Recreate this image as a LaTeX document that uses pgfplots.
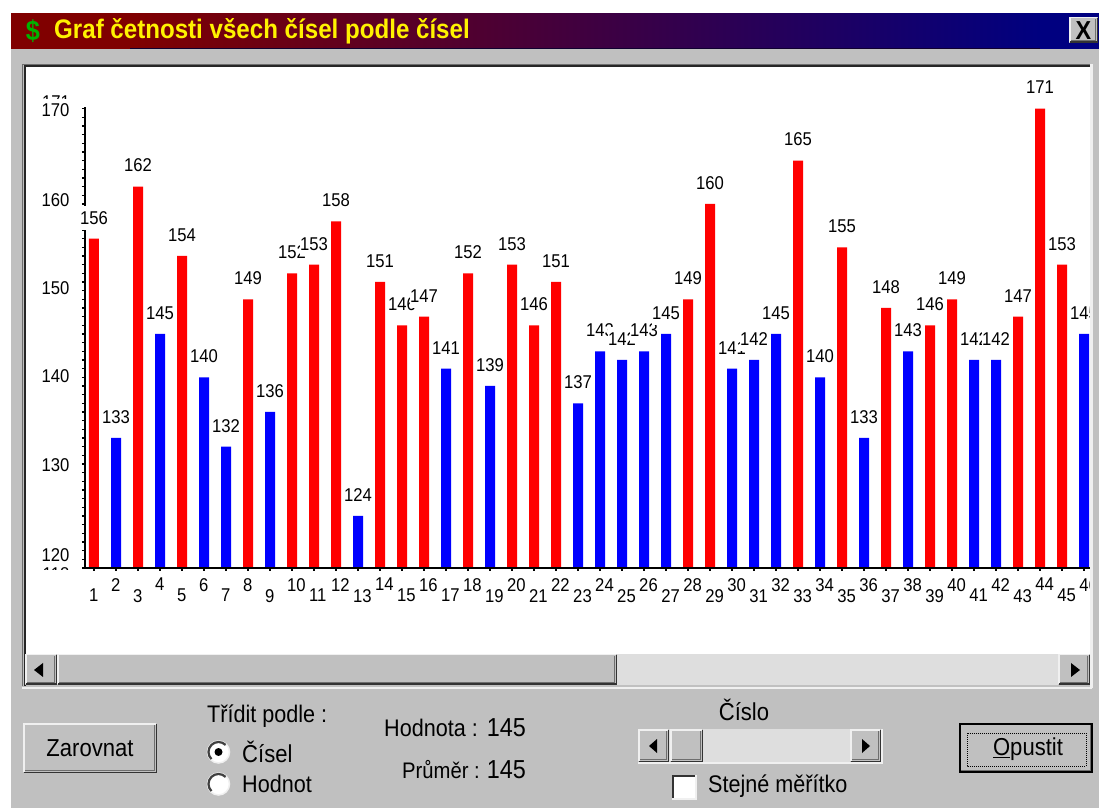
\documentclass[border=0pt]{standalone}
\usepackage{fontspec}
\setmainfont[FakeStretch=0.9]{Liberation Sans}
\usepackage{pgfplots}
\pgfplotsset{compat=1.18}
\definecolor{wingrey}{RGB}{192,192,192}
\definecolor{winlight}{RGB}{240,240,240}
\definecolor{windark}{RGB}{110,110,110}
\definecolor{wintrack}{RGB}{222,222,222}
\definecolor{barred}{RGB}{255,0,0}
\definecolor{barblue}{RGB}{0,0,255}
\newcommand{\chartfont}{\fontsize{18.5}{20}\selectfont}
\newcommand{\uifont}{\fontsize{24.5}{26}\selectfont}
% raised 3D button: x1,y1,x2,y2
\newcommand{\bevel}[4]{%
  \fill[wingrey] (#1,#2) rectangle (#3,#4);
  \draw[winlight,line width=1.5pt] (#1+.75,#4-.75) -- (#1+.75,#2+.75) -- (#3-.75,#2+.75);
  \draw[black!80,line width=1.5pt] (#1+.75,#4-.75) -- (#3-.75,#4-.75) -- (#3-.75,#2+.75);
  \draw[windark,line width=1.2pt] (#1+2,#4-2.2) -- (#3-2.2,#4-2.2) -- (#3-2.2,#2+2);
}
\newcommand{\radio}[2]{%
  \draw[winlight,line width=1.5pt,fill=white] (#1,#2) circle (11);
  \draw[black!75,line width=2.2pt] (#1,#2) ++(-45:10) arc[start angle=-45,end angle=-225,radius=10];
}
\begin{document}
\begin{tikzpicture}
\fill[white] (0pt,0pt) rectangle (1099pt,808pt);
\path[use as bounding box] (0pt,0pt) rectangle (1099pt,808pt);
\begin{scope}[x=1pt,y=-1pt,yshift=808pt]
  \fill[wingrey] (11,13) rectangle (1099,808);
  % title bar
  \fill[red!50!black] (11,13) rectangle (130,49);
  \fill[red!25!blue!25!black] (130,13) rectangle (1040,49);
  \shade[left color=red!50!black,right color=blue!50!black] (130,14) rectangle (1040,48);
  \fill[blue!50!black] (1040,13) rectangle (1099,49);
  \node[anchor=center,text=green!70!black,font=\fontsize{28}{30}\selectfont\bfseries] at (33,31) {\$};
  \node[anchor=west,inner sep=0pt,text=yellow,font=\fontsize{26.8}{28}\selectfont\bfseries] at (54,31) {Graf četnosti všech čísel podle čísel};
  \bevel{1069}{17}{1098}{43}
  \node[font=\fontsize{26}{28}\selectfont\bfseries] at (1083.5,30.5) {X};
  % panel
  \fill[white] (25,67) rectangle (1090,655);
  \draw[windark,line width=1pt] (22.5,686) -- (22.5,64.5) -- (1090,64.5);
  \draw[black!85,line width=2pt] (24.5,686) -- (24.5,66) -- (1090,66);
  % clipped remnants of the two scale labels
  \node[font=\chartfont,inner sep=0pt] at (56,102) {171};
  \begin{scope}
    \clip (30,566) rectangle (80,570);
    \node[font=\chartfont,inner sep=0pt] at (56,574) {118};
  \end{scope}
\end{scope}
\begin{axis}[
  at={(85pt,240pt)},anchor=south west,
  scale only axis,width=1005pt,height=461.1pt,
  ybar,bar width=10pt,bar shift=0pt,
  xmin=0.591,xmax=46.27,ymin=118,ymax=171.2,
  axis x line=bottom,axis y line=left,
  axis line style={-,black,line width=1.6pt},
  /pgf/number format/assume math mode=true,
  tick align=outside,
  tick style={black,line width=1.2pt},
  major tick length=3pt,minor tick length=3pt,
  xtick={2,4,6,8,10,12,14,16,18,20,22,24,26,28,30,32,34,36,38,40,42,44,46},
  extra x ticks={1,3,5,7,9,11,13,15,17,19,21,23,25,27,29,31,33,35,37,39,41,43,45},
  extra x tick style={x tick label style={yshift=-11pt}},
  x tick label style={font=\chartfont,anchor=north west,inner sep=0pt,xshift=-5pt,yshift=-7pt},
  ytick={170.85,160.46,150.31,140.15,129.88,119.5},
  yticklabels={170,160,150,140,130,120},
  minor ytick={118,119,120,121,122,123,124,125,126,127,128,129,130,131,132,133,134,135,136,137,138,139,140,141,142,143,144,145,146,147,148,149,150,151,152,153,154,155,156,157,158,159,160,161,162,163,164,165,166,167,168,169,170,171},
  every major y tick/.style={draw=none},
  y tick label style={font=\chartfont,anchor=center,fill=white,inner sep=0pt,minimum height=22pt,minimum width=28pt,xshift=-26.5pt},
  nodes near coords={\pgfmathprintnumber{\pgfplotspointmeta}},
  every node near coord/.style={},
]
\addplot[fill=barred,draw=none,nodes near coords=\relax] coordinates {
 (1,156)(3,162)(5,154)(8,149)(10,152)(11,153)(12,158)(14,151)(15,146)(16,147)
 (18,152)(20,153)(21,146)(22,151)(28,149)(29,160)(33,165)(35,155)(37,148)
 (39,146)(40,149)(43,147)(44,171)(45,153)};
\addplot[fill=barblue,draw=none,nodes near coords=\relax] coordinates {
 (2,133)(4,145)(6,140)(7,132)(9,136)(13,124)(17,141)(19,139)(23,137)(24,143)
 (25,142)(26,143)(27,145)(30,141)(31,142)(32,145)(34,140)(36,133)(38,143)
 (41,142)(42,142)(46,145)};
% value labels, opaque and in number order, so later ones overlap earlier ones
\addplot[draw=none,fill=none,
  nodes near coords={\pgfmathprintnumber{\pgfplotspointmeta}},
  every node near coord/.style={font=\chartfont,text=black,fill=white,inner sep=0pt,
    minimum height=24pt,minimum width=27pt,anchor=center,yshift=21pt}] coordinates {
 (1,156)(2,133)(3,162)(4,145)(5,154)(6,140)(7,132)(8,149)(9,136)(10,152)
 (11,153)(12,158)(13,124)(14,151)(15,146)(16,147)(17,141)(18,152)(19,139)(20,153)
 (21,146)(22,151)(23,137)(24,143)(25,142)(26,143)(27,145)(28,149)(29,160)(30,141)
 (31,142)(32,145)(33,165)(34,140)(35,155)(36,133)(37,148)(38,143)(39,146)(40,149)
 (41,142)(42,142)(43,147)(44,171)(45,153)(46,145)};
\end{axis}
\begin{scope}[x=1pt,y=-1pt,yshift=808pt]
  % baseline over the bars
  \draw[black,line width=1.6pt] (85,568) -- (1090,568);
  % right edge of the panel hides what runs past it
  \fill[winlight] (1089.5,64) rectangle (1092.5,688);
  \fill[wingrey] (1092.5,49) rectangle (1099,808);
  % scrollbar
  \fill[wintrack] (25,654) rectangle (1090,685);
  \bevel{25}{654}{57}{685}
  \fill[black] (34,670) -- (43,663) -- (43,677) -- cycle;
  \bevel{57}{654}{617}{685}
  \bevel{1058}{654}{1090}{685}
  \fill[black] (1080,670) -- (1071,663) -- (1071,677) -- cycle;
  \draw[winlight,line width=2pt] (22,688) -- (1092,688);
  % buttons and text
  \bevel{23}{723}{157}{773}
  \node[font=\uifont] at (90,748) {Zarovnat};
  \node[anchor=west,inner sep=0pt,font=\fontsize{24}{26}\selectfont] at (207,716) {Třídit podle :};
  \radio{218.5}{752}
  \fill[black] (218.5,752) circle (4);
  \radio{218.5}{784}
  \node[anchor=west,inner sep=0pt,font=\uifont] at (242,752) {Čísel};
  \node[anchor=west,inner sep=0pt,font=\fontsize{24}{26}\selectfont] at (242,784) {Hodnot};
  \node[anchor=west,inner sep=0pt,font=\fontsize{24}{26}\selectfont] at (384,728) {Hodnota :};
  \node[anchor=east,inner sep=0pt,font=\fontsize{26}{28}\selectfont] at (526,728) {145};
  \node[anchor=west,inner sep=0pt,font=\fontsize{22.5}{24}\selectfont] at (402,770) {Průměr :};
  \node[anchor=east,inner sep=0pt,font=\fontsize{26}{28}\selectfont] at (526,770) {145};
  \node[font=\uifont] at (744,710) {Číslo};
  \fill[wintrack] (638,729) rectangle (881,762);
  \draw[winlight,line width=1.5pt] (638,763) -- (882,763) -- (882,729);
  \bevel{638}{729}{669}{762}
  \fill[black] (649,746) -- (657,739) -- (657,753) -- cycle;
  \bevel{670}{729}{703}{762}
  \bevel{850}{729}{881}{762}
  \fill[black] (870,746) -- (862,739) -- (862,753) -- cycle;
  \fill[white] (672,775) rectangle (695,798);
  \draw[black!80,line width=2pt] (673,798) -- (673,776) -- (695,776);
  \draw[winlight,line width=1.5pt] (672,799) -- (696,799) -- (696,775);
  \node[anchor=west,inner sep=0pt,font=\fontsize{24}{26}\selectfont] at (708,786) {Stejné měřítko};
  \bevel{959}{723}{1093}{773}
  \draw[black,line width=2pt] (960,724) rectangle (1092,772);
  \draw[black,line width=1pt,densely dotted] (967,733) rectangle (1086,766);
  \node[font=\uifont] at (1028,749.5) {\underline{O}pustit};
\end{scope}
\end{tikzpicture}
\end{document}
